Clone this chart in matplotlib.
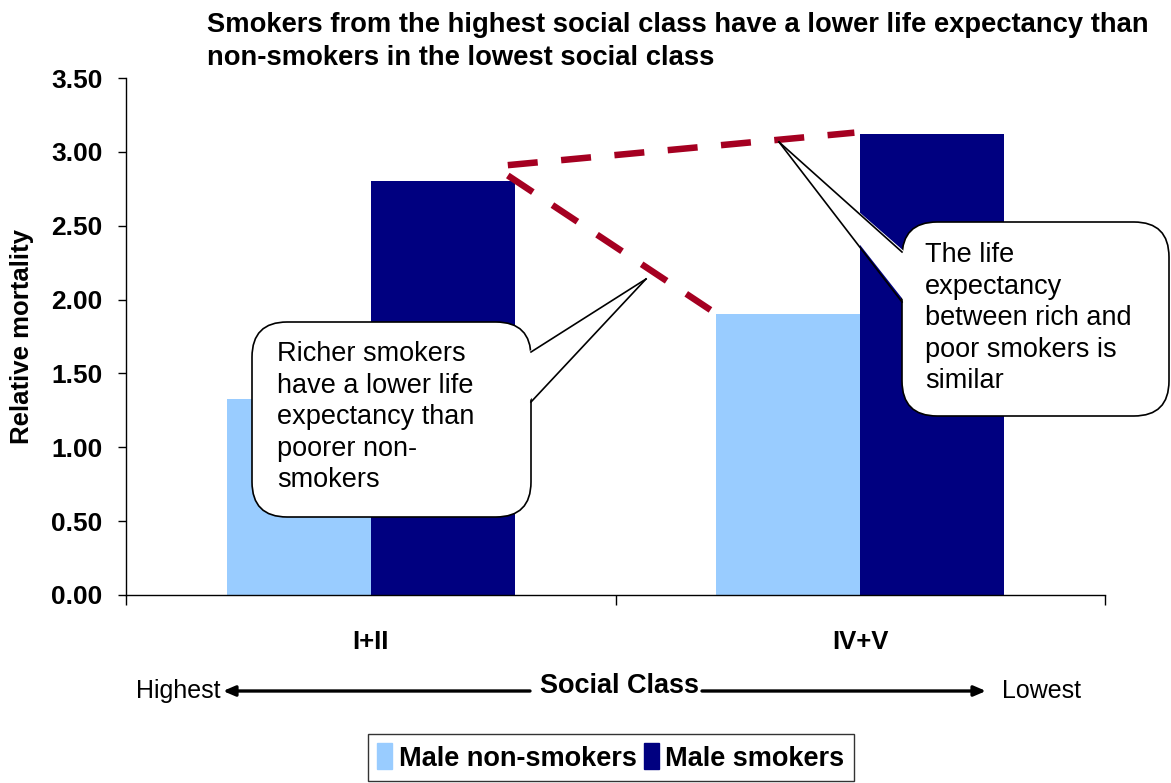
import matplotlib.pyplot as plt
import numpy as np
from matplotlib.patches import FancyBboxPatch, Polygon
from matplotlib.lines import Line2D

plt.rcParams['font.family'] = ['Liberation Sans', 'DejaVu Sans']

# Data
categories = ['I+II', 'IV+V']
non_smokers = [1.33, 1.90]
smokers = [2.80, 3.12]
series_names = ['Male non-smokers', 'Male smokers']
colors = ['#99CCFF', '#000080']

W, H = 1171, 783
fig = plt.figure(figsize=(W / 100, H / 100), dpi=100)


def fx(px):
    return px / W


def fy(py):
    return 1 - py / H


ax = fig.add_axes([fx(126), fy(595), fx(1105) - fx(126), fy(78) - fy(595)])

x = np.arange(len(categories))
w = 0.294
ax.bar(x - w / 2, non_smokers, w, color=colors[0], zorder=2)
ax.bar(x + w / 2, smokers, w, color=colors[1], zorder=2)

ax.set_xlim(-0.5, 1.5)
ax.set_ylim(0, 3.5)
ax.set_yticks(np.arange(0, 3.51, 0.5))
ax.set_yticklabels([f'{v:.2f}' for v in np.arange(0, 3.51, 0.5)],
                   fontsize=19, fontweight='bold')
ax.set_xticks(x)
ax.set_xticklabels(categories, fontsize=18.5, fontweight='bold')
ax.set_xticks([-0.5, 0.5, 1.5], minor=True)
ax.tick_params(axis='x', which='major', length=0, pad=25)
ax.tick_params(axis='x', which='minor', length=7, width=1)
ax.tick_params(axis='y', length=6, width=1, pad=11)
for s in ['top', 'right']:
    ax.spines[s].set_visible(False)
for s in ['left', 'bottom']:
    ax.spines[s].set_linewidth(1)

# dashed comparison lines
red = '#A50021'
ax.plot([0.28, 0.988], [2.91, 3.13], color=red, lw=4.7,
        dashes=(4.6, 3.6), solid_capstyle='butt', zorder=4, clip_on=False)
ax.plot([0.28, 0.694], [2.84, 1.93], color=red, lw=4.7,
        dashes=(4.6, 3.6), solid_capstyle='butt', zorder=4, clip_on=False)

# titles / labels
fig.text(fx(207), fy(12), 'Smokers from the highest social class have a lower life expectancy than\n'
         'non-smokers in the lowest social class', ha='left', va='top',
         fontsize=19.7, fontweight='bold', linespacing=1.35)
fig.text(fx(22), fy(336), 'Relative mortality', rotation=90, ha='center', va='center',
         fontsize=18.5, fontweight='bold')
fig.text(fx(619), fy(686), 'Social Class', ha='center', va='center',
         fontsize=19.5, fontweight='bold')
fig.text(fx(220), fy(691), 'Highest', ha='right', va='center', fontsize=18)
fig.text(fx(1002), fy(691), 'Lowest', ha='left', va='center', fontsize=18)
arrow_kw = dict(arrowstyle='-|>,head_length=0.7,head_width=0.3', lw=2.4, color='black',
                shrinkA=0, shrinkB=0)
fig.add_artist(plt.Annotation('', xy=(fx(223), fy(691)), xytext=(fx(530), fy(691)),
                              xycoords='figure fraction', arrowprops=arrow_kw))
fig.add_artist(plt.Annotation('', xy=(fx(986), fy(691)), xytext=(fx(702), fy(691)),
                              xycoords='figure fraction', arrowprops=arrow_kw))


# callouts
def callout(x0, y0, x1, y1, base1, base2, tip, text, tx, ty):
    box = FancyBboxPatch((fx(x0), fy(y1)), fx(x1) - fx(x0), fy(y0) - fy(y1),
                         boxstyle='round,pad=0,rounding_size=0.03',
                         transform=fig.transFigure, facecolor='white',
                         edgecolor='black', lw=1.2, zorder=5,
                         mutation_aspect=W / H)
    fig.add_artist(box)
    # white wedge covering the border, plus its two edges
    inset = 3 if base1[0] > x0 + 5 else -3
    pts = [(fx(base1[0] - inset), fy(base1[1])), (fx(tip[0]), fy(tip[1])),
           (fx(base2[0] - inset), fy(base2[1]))]
    fig.add_artist(Polygon(pts, closed=True, transform=fig.transFigure,
                           facecolor='white', edgecolor='none', zorder=6))
    for b in (base1, base2):
        fig.add_artist(Line2D([fx(b[0]), fx(tip[0])], [fy(b[1]), fy(tip[1])],
                              transform=fig.transFigure, color='black', lw=1.2, zorder=7))
    fig.text(fx(tx), fy(ty), text, ha='left', va='top', fontsize=19.5,
             linespacing=1.28, zorder=8)


callout(252, 322, 531, 517, (531, 352), (531, 402), (646, 279),
        'Richer smokers\nhave a lower life\nexpectancy than\npoorer non-\nsmokers', 277, 341)
callout(902, 222, 1169, 416, (902, 252), (902, 302), (779, 142),
        'The life\nexpectancy\nbetween rich and\npoor smokers is\nsimilar', 925, 242)

# legend
handles = [plt.Rectangle((0, 0), 1, 1, color=c) for c in colors]
leg = fig.legend(handles, series_names, loc='upper center', ncol=2,
                 bbox_to_anchor=(fx(611), fy(734)), frameon=True, fancybox=False,
                 edgecolor='black', prop={'size': 19.5, 'weight': 'bold'},
                 handlelength=0.55, handleheight=1.1, handletextpad=0.25,
                 columnspacing=0.25, borderpad=0.35, borderaxespad=0)
leg.get_frame().set_linewidth(1)

fig.savefig('out.png', dpi=100)
